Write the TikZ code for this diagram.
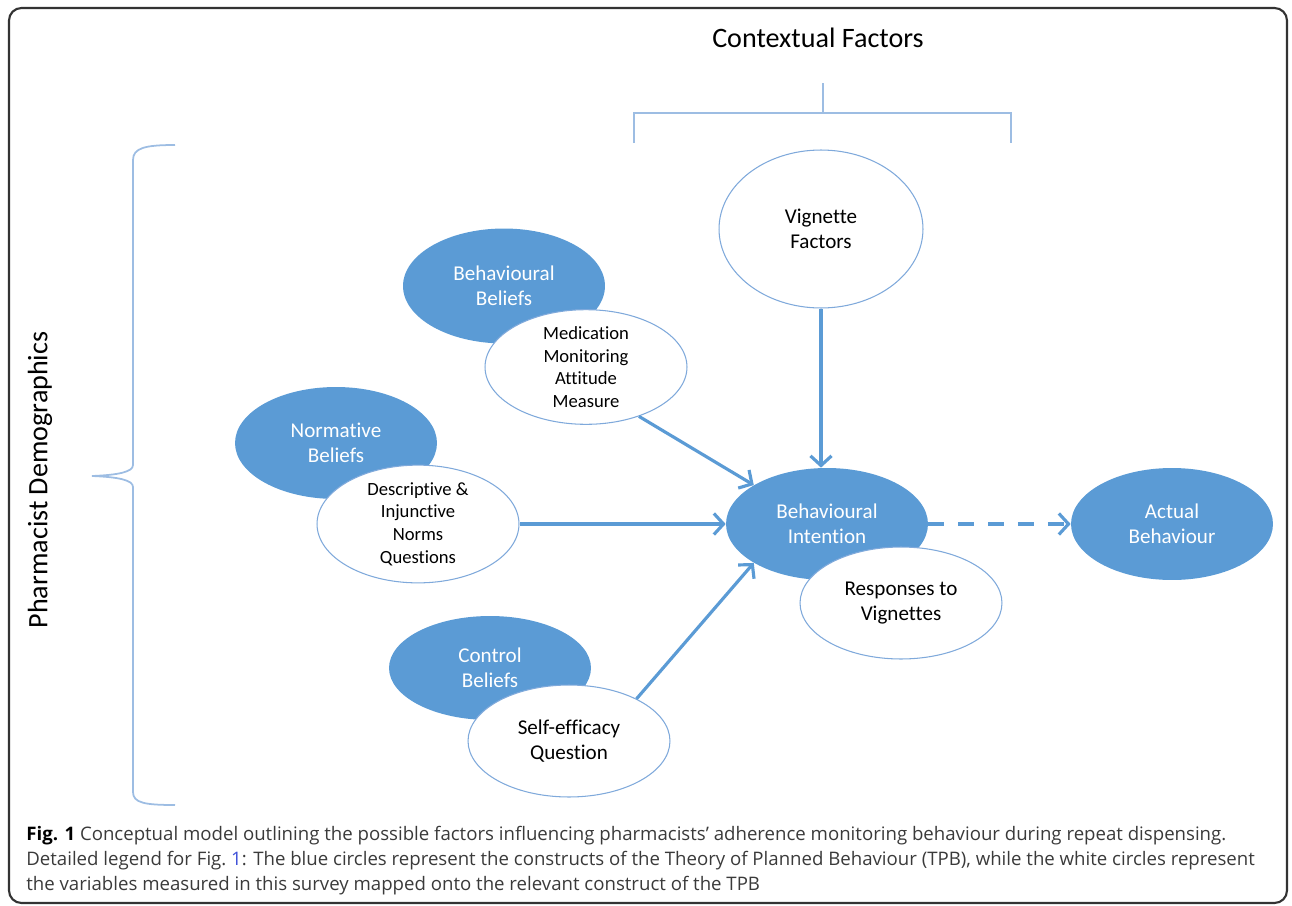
\documentclass[tikz,border=0pt]{standalone}
\usepackage{fontspec}
\setmainfont[Ligatures=NoCommon]{Carlito}
\newfontfamily\capfont{Open Sans}
\usetikzlibrary{shapes.geometric,arrows.meta}

\definecolor{tpbblue}{HTML}{5B9BD5}
\definecolor{rimblue}{HTML}{7FA9DB}
\definecolor{braceblue}{HTML}{9DBDE3}
\definecolor{figlink}{HTML}{3F51D8}
\definecolor{captext}{HTML}{3A3A3A}

\tikzset{
  construct/.style={ellipse,fill=tpbblue,text=white,inner sep=0pt,
    minimum width=4.04cm,minimum height=2.24cm,align=center,
    font=\fontsize{12}{14.2}\selectfont},
  measure/.style={ellipse,draw=rimblue,line width=0.6pt,fill=white,text=black,inner sep=0pt,
    minimum width=4.04cm,minimum height=2.24cm,align=center,
    font=\fontsize{12}{14.2}\selectfont},
  small/.style={font=\fontsize{10.6}{12.9}\selectfont},
  link/.style={draw=tpbblue,line width=1.8pt,-{Straight Barb[length=5.5pt,width=12pt]}},
  brace/.style={draw=braceblue,line width=1pt},
  capline/.style={anchor=base west,inner sep=0pt,text=captext,
    font=\capfont\fontsize{10.6}{14}\selectfont}
}

\begin{document}
\begin{tikzpicture}[x=0.02cm,y=-0.02cm]
\useasboundingbox (0,0) rectangle (1292,906);
\draw[line width=1.2pt,draw=black!80,rounded corners=0.25cm] (9,8) rectangle (1287,903);

%% headings
\node (ctx) [font=\fontsize{16}{18}\selectfont] at (818,38) {Contextual Factors};
\node (demo) [rotate=90,font=\fontsize{16}{18}\selectfont] at (40,480) {Pharmacist Demographics};

%% brackets
\draw[brace] (823,83) -- (823,113) (634,143) -- (634,113) -- (1011,113) -- (1011,143);
\draw[brace] (175,145) .. controls (145,145) and (133,148) .. (133,160) -- (133,465)
   .. controls (133,472) and (118,475) .. (92,476) .. controls (118,477) and (133,480) .. (133,487)
   -- (133,792) .. controls (133,803) and (145,805) .. (175,805);

%% TPB constructs
\node (bb) [construct,minimum height=2.3cm] at (504,286) {Behavioural\\Beliefs};
\node (nb) [construct] at (336,443) {Normative\\Beliefs};
\node (cb) [construct,minimum height=2.08cm] at (490,668) {Control\\Beliefs};
\node (bi) [construct] at (827,524) {Behavioural\\Intention};
\node (ab) [construct] at (1172,524) {Actual\\Behaviour};

%% survey measures
\node (vig) [measure,minimum width=4.08cm,minimum height=3.16cm] at (821,229) {Vignette\\Factors};
\node (med) [measure,small] at (586,367) {Medication\\Monitoring\\Attitude\\Measure};
\node (desc) [measure,small] at (418,524) {Descriptive \&\\Injunctive\\Norms\\Questions};
\node (resp) [measure] at (901,603) {Responses to\\Vignettes};
\node (self) [measure] at (569,741) {Self-efficacy\\Question};

%% arrows
\draw[link] (vig.south) -- (vig.south |- bi.north);
\draw[link] (med.-43) -- (bi.152);
\draw[link] (desc.east) -- (bi.west);
\draw[link] (self.32) -- (bi.208);
\draw[link,dash pattern=on 9pt off 8pt] (bi.east) -- (ab.west);

%% caption
\node (cap1) [capline] at (26,840) {\textbf{\color{black}Fig. 1} Conceptual model outlining the possible factors influencing pharmacists’ adherence monitoring behaviour during repeat dispensing.};
\node (cap2) [capline] at (26,865) {Detailed legend for Fig.~\textcolor{figlink}{1}: The blue circles represent the constructs of the Theory of Planned Behaviour (TPB), while the white circles represent};
\node (cap3) [capline] at (26,890) {the variables measured in this survey mapped onto the relevant construct of the TPB};
\end{tikzpicture}
\end{document}
